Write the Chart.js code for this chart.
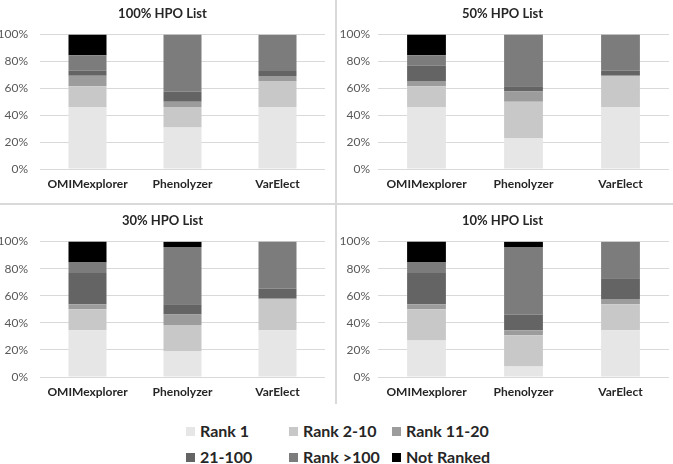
<!DOCTYPE html>
<html>
<head>
<meta charset="utf-8">
<script src="https://cdn.jsdelivr.net/npm/chart.js@4"></script>
<style>
    body { margin: 0; background: #fff; }
    #wrap { position: relative; width: 673px; height: 464px; overflow: hidden; font-family: Lato, "Open Sans", sans-serif; }
    .panel { position: absolute; }
    .vline { position: absolute; left: 335px; top: 0; width: 2px; height: 404px; background: #d9d9d9; }
    .hline { position: absolute; left: 0; top: 203px; width: 673px; height: 2px; background: #d9d9d9; }
    #legend { position: absolute; left: 186px; top: 421px; width: 320px; }
    .item { position: absolute; font-weight: bold; font-size: 16px; color: #262626; white-space: nowrap; line-height: 20px; }
    .item span { display: inline-block; width: 9px; height: 9px; margin-right: 5px; vertical-align: 1px; }
</style>
</head>
<body>
<div id="wrap">
    <div class="panel" style="left:0;top:0"><canvas id="c100" width="336" height="204"></canvas></div>
    <div class="panel" style="left:336px;top:0"><canvas id="c50" width="337" height="204"></canvas></div>
    <div class="panel" style="left:0;top:204px"><canvas id="c30" width="336" height="200"></canvas></div>
    <div class="panel" style="left:336px;top:204px"><canvas id="c10" width="337" height="200"></canvas></div>
    <div class="vline"></div>
    <div class="hline"></div>
    <div id="legend"></div>
</div>
<script>
var tools = ['OMIMexplorer', 'Phenolyzer', 'VarElect'];
var ranks = ['Rank 1', 'Rank 2-10', 'Rank 11-20', '21-100', 'Rank >100', 'Not Ranked'];
var yTicks = [0, 20, 40, 60, 80, 100];

// percent of patients, one row per rank group, columns follow tools
var hpo100 = [
    [46.2, 30.8, 46.2],
    [15.4, 15.4, 19.2],
    [7.7, 3.8, 3.8],
    [3.8, 7.7, 3.8],
    [11.5, 42.3, 26.9],
    [15.4, 0, 0]
];
var hpo50 = [
    [46.2, 23.1, 46.2],
    [15.4, 26.9, 23.1],
    [3.8, 7.7, 0],
    [11.5, 3.8, 3.8],
    [7.7, 38.5, 26.9],
    [15.4, 0, 0]
];
var hpo30 = [
    [34.6, 19.2, 34.6],
    [15.4, 19.2, 23.1],
    [3.8, 7.7, 0],
    [23.1, 7.7, 7.7],
    [7.7, 42.3, 34.6],
    [15.4, 3.8, 0]
];
var hpo10 = [
    [26.9, 7.7, 34.6],
    [23.1, 23.1, 19.2],
    [3.8, 3.8, 3.8],
    [23.1, 11.5, 15.4],
    [7.7, 50.0, 26.9],
    [15.4, 3.8, 0]
];

var colors = ['#e6e6e6', '#c8c8c8', '#9c9c9c', '#646464', '#7c7c7c', '#000000'];

function makeChart(id, title, rows, top, right)
{
    var sets = [];
    for (var i in ranks) {
        sets.push({
            label: ranks[i],
            data: rows[i],
            backgroundColor: colors[i],
            borderWidth: 0,
            barPercentage: 0.4,
            categoryPercentage: 1
        });
    }
    var ctx = document.getElementById(id).getContext('2d');
    return new Chart(ctx, {
        type: 'bar',
        data: { labels: tools, datasets: sets },
        options: {
            responsive: false,
            animation: false,
            layout: { padding: { left: 0, right: right, top: 0, bottom: 0 } },
            plugins: {
                legend: { display: false },
                tooltip: { enabled: false },
                title: {
                    display: true,
                    text: title,
                    color: '#262626',
                    font: { family: 'Lato', size: 13, weight: 'bold' },
                    padding: { top: top + 1, bottom: 13 }
                }
            },
            scales: {
                x: {
                    stacked: true,
                    grid: { display: false, drawTicks: false },
                    border: { display: false },
                    ticks: { color: '#262626', padding: 8, font: { family: 'Lato', size: 12, weight: 'bold' } },
                    afterFit: function (s) { s.height = id == 'c100' || id == 'c50' ? 35 : 27; }
                },
                y: {
                    stacked: true,
                    min: 0,
                    max: 100,
                    afterBuildTicks: function (s) { s.ticks = yTicks.map(function (v) { return { value: v }; }); },
                    grid: { color: '#d9d9d9', drawTicks: false },
                    border: { display: false },
                    ticks: {
                        color: '#595959',
                        padding: right > 8 ? 12 : 8,
                        font: { family: 'Lato', size: 12 },
                        callback: function (v) { return v + '%'; }
                    },
                    afterFit: function (s) { s.width = right > 8 ? 40 : 42; }
                }
            }
        }
    });
}

makeChart('c100', '100% HPO List', hpo100, 5, 11);
makeChart('c50', '50% HPO List', hpo50, 5, 4);
makeChart('c30', '30% HPO List', hpo30, 8, 11);
makeChart('c10', '10% HPO List', hpo10, 8, 4);

// legend in 3 columns, 2 rows
var legend = document.getElementById('legend');
for (var i in ranks) {
    var d = document.createElement('div');
    d.className = 'item';
    d.style.left = (i % 3) * 103 + 'px';
    d.style.top = Math.floor(i / 3) * 26 + 'px';
    d.innerHTML = '<span style="background:' + colors[i] + '"></span>';
    d.appendChild(document.createTextNode(ranks[i]));
    legend.appendChild(d);
}
</script>
</body>
</html>
